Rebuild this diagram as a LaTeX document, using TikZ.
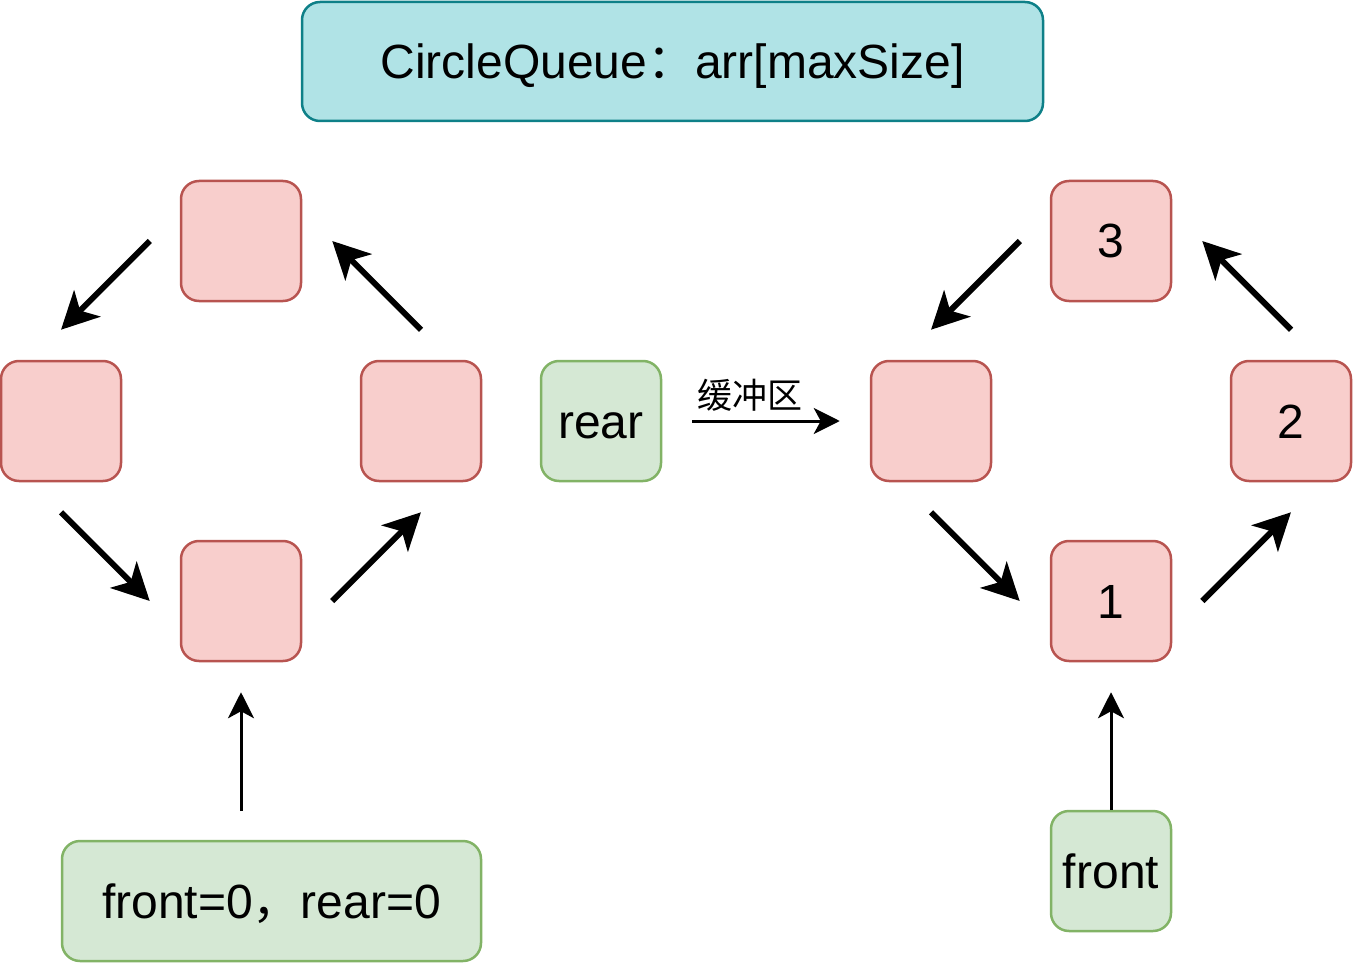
\documentclass[tikz,border=0pt]{standalone}
\usepackage{fontspec}
\setmainfont{Liberation Sans}
\newfontfamily\cjk{Noto Sans CJK SC}
\usetikzlibrary{arrows.meta}
\definecolor{cellfill}{HTML}{F8CECC}
\definecolor{celldraw}{HTML}{B85450}
\definecolor{tagfill}{HTML}{D5E8D4}
\definecolor{tagdraw}{HTML}{82B366}
\definecolor{headfill}{HTML}{B0E3E6}
\definecolor{headdraw}{HTML}{0E8088}
\newcommand{\bigtext}{\fontsize{48}{58}\selectfont}

\begin{document}
\begin{tikzpicture}[x=1pt, y=-1pt,
	box/.style={line width=2.5pt, rounded corners=18pt, inner sep=0pt,
		minimum width=120pt, minimum height=120pt, font=\bigtext,
		text height=44pt, text depth=10pt},
	cell/.style={box, draw=celldraw, fill=cellfill},
	tag/.style={box, draw=tagdraw, fill=tagfill},
	head/.style={box, draw=headdraw, fill=headfill},
	flow/.style={line width=6pt, -{Stealth[length=37pt, width=37pt, inset=10pt]}},
	link/.style={line width=3pt, -{Stealth[length=26pt, width=26pt, inset=7pt]}}]
	\useasboundingbox (0,0) rectangle (1353,963);
	% title
	\node[head, minimum width=741pt, minimum height=119pt] (title) at (672.5,61.5)
		{CircleQueue{\cjk ：}arr[maxSize]};
	% empty queue
	\node[cell] (lt) at (241,241) {};
	\node[cell] (ll) at (61,421) {};
	\node[cell] (lr) at (421,421) {};
	\node[cell] (lb) at (241,601) {};
	\draw[flow] ([xshift=-30pt]lt.west) -- ([yshift=30pt]ll.north);
	\draw[flow] ([yshift=-30pt]ll.south) -- ([xshift=-30pt]lb.west);
	\draw[flow] ([xshift=30pt]lb.east) -- ([yshift=-30pt]lr.south);
	\draw[flow] ([yshift=30pt]lr.north) -- ([xshift=30pt]lt.east);
	\node[tag, minimum width=419pt] (init) at (271.5,901) {front=0{\cjk ，}rear=0};
	\coordinate (initptr) at (241,811);
	\draw[link] (initptr) -- ([yshift=-30pt]lb.south);
	% rear pointer
	\node[tag] (rear) at (601,421) {rear};
	% filled queue
	\node[cell] (rt) at (1111,241) {3};
	\node[cell] (rl) at (931,421) {};
	\node[cell] (rr) at (1291,421) {2};
	\node[cell] (rb) at (1111,601) {1};
	\draw[flow] ([xshift=-30pt]rt.west) -- ([yshift=30pt]rl.north);
	\draw[flow] ([yshift=-30pt]rl.south) -- ([xshift=-30pt]rb.west);
	\draw[flow] ([xshift=30pt]rb.east) -- ([yshift=-30pt]rr.south);
	\draw[flow] ([yshift=30pt]rr.north) -- ([xshift=30pt]rt.east);
	\draw[link] ([xshift=30pt]rear.east) -- ([xshift=-30pt]rl.west)
		node[midway, above, xshift=-16pt, inner sep=8pt, font=\cjk\fontsize{35}{40}\selectfont] (buf) {缓冲区};
	\node[tag] (front) at (1111,871) {front};
	\draw[link] (front.north) -- ([yshift=-30pt]rb.south);
\end{tikzpicture}
\end{document}
